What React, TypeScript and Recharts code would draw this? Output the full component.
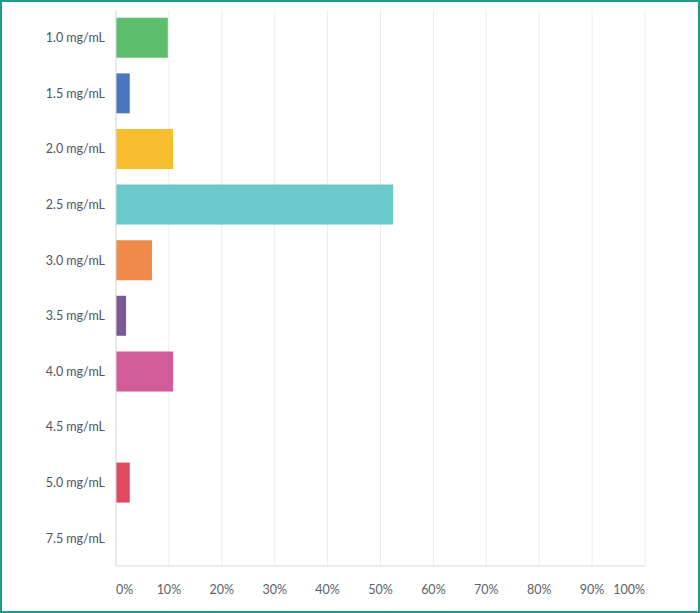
import React from "react";
import { BarChart, Bar, XAxis, YAxis, CartesianGrid, Cell } from "recharts";

const categories = [
  "1.0 mg/mL", "1.5 mg/mL", "2.0 mg/mL", "2.5 mg/mL", "3.0 mg/mL",
  "3.5 mg/mL", "4.0 mg/mL", "4.5 mg/mL", "5.0 mg/mL", "7.5 mg/mL",
];
const shares = [9.8, 2.6, 10.8, 52.4, 6.8, 1.9, 10.8, 0, 2.6, 0];
const barColors = [
  "#5dbf6d", "#4a78bf", "#f7bf30", "#6bc8cb", "#f08a4b",
  "#7a5b98", "#d05c98", "#c8c8c8", "#df4a5e", "#c8c8c8",
];
const xTicks = [0, 10, 20, 30, 40, 50, 60, 70, 80, 90, 100];

const data = categories.map((c, i) => ({ name: c, value: shares[i] }));

const FONT = "Lato, 'Open Sans', sans-serif";

function PctTick(props: any) {
  const { x, y, payload } = props;
  const v = payload.value;
  const anchor = v === 0 ? "start" : v === 100 ? "end" : "middle";
  return (
    <text x={x} y={y} dy={12} textAnchor={anchor} fill="#5a5f69" fontSize={12.5} fontFamily={FONT}>
      {v}%
    </text>
  );
}

export default function App() {
  return (
    <div
      style={{
        position: "absolute",
        left: 0,
        top: 0,
        width: 700,
        height: 613,
        boxSizing: "border-box",
        border: "2px solid #1f9b8b",
        background: "#fff",
      }}
    >
      <div style={{ position: "absolute", left: -2, top: -2 }}>
        <BarChart
          width={700}
          height={613}
          data={data}
          layout="vertical"
          margin={{ top: 10, right: 55, bottom: 8, left: 0 }}
          barCategoryGap="14%"
        >
          <CartesianGrid horizontal={false} stroke="#ececec" />
          <XAxis
            type="number"
            domain={[0, 100]}
            ticks={xTicks}
            tick={<PctTick />}
            tickLine={false}
            axisLine={{ stroke: "#dcdcdc" }}
            tickMargin={10}
            height={39}
            interval={0}
          />
          <YAxis
            type="category"
            dataKey="name"
            width={116}
            tickLine={false}
            axisLine={{ stroke: "#dcdcdc" }}
            tickMargin={5}
            tick={{ fontSize: 12.5, fill: "#4f545e", fontFamily: FONT }}
          />
          <Bar dataKey="value" isAnimationActive={false}>
            {data.map((_, i) => (
              <Cell key={i} fill={barColors[i]} />
            ))}
          </Bar>
        </BarChart>
      </div>
    </div>
  );
}
